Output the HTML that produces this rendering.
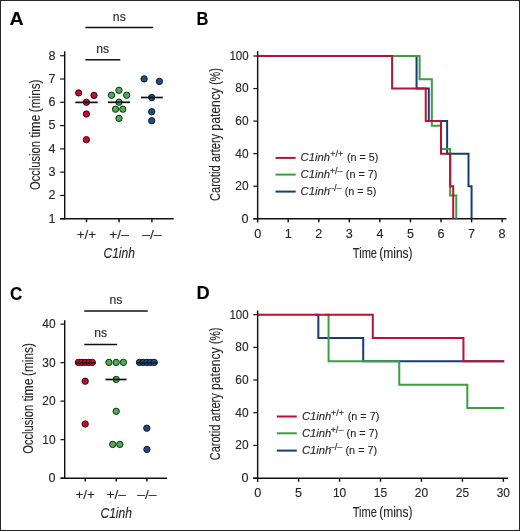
<!DOCTYPE html>
<html><head><meta charset="utf-8"><style>
html,body{margin:0;padding:0;background:#fff;}
.fig{position:relative;width:520px;height:531px;overflow:hidden;}
svg{display:block;font-family:"Liberation Sans", sans-serif;will-change:transform;}
text{stroke:#262626;stroke-width:0.12px;}
</style></head><body><div class="fig">
<svg width="520" height="531" viewBox="0 0 520 531">
<rect x="0" y="0" width="520" height="531" fill="#fff"/>
<text x="9.57" y="24.6" font-size="18.4" text-anchor="start" textLength="14.15" lengthAdjust="spacingAndGlyphs" font-weight="bold" fill="#000">A</text>
<text x="196.43" y="24.6" font-size="18.4" text-anchor="start" textLength="11.88" lengthAdjust="spacingAndGlyphs" font-weight="bold" fill="#000">B</text>
<text x="10.05" y="299.6" font-size="18.4" text-anchor="start" textLength="12.3" lengthAdjust="spacingAndGlyphs" font-weight="bold" fill="#000">C</text>
<text x="196.61" y="298.9" font-size="18.4" text-anchor="start" textLength="13.17" lengthAdjust="spacingAndGlyphs" font-weight="bold" fill="#000">D</text>
<line x1="64.7" y1="51.3" x2="64.7" y2="219.4" stroke="#111111" stroke-width="1.45"/>
<line x1="60.2" y1="218.75" x2="173.7" y2="218.75" stroke="#111111" stroke-width="1.45"/>
<line x1="60.2" y1="218.75" x2="64.7" y2="218.75" stroke="#111111" stroke-width="1.2"/>
<text x="55.6" y="222.65" font-size="12.6" text-anchor="end" fill="#262626">1</text>
<line x1="60.2" y1="195.46" x2="64.7" y2="195.46" stroke="#111111" stroke-width="1.2"/>
<text x="55.6" y="199.36" font-size="12.6" text-anchor="end" fill="#262626">2</text>
<line x1="60.2" y1="172.17000000000002" x2="64.7" y2="172.17000000000002" stroke="#111111" stroke-width="1.2"/>
<text x="55.6" y="176.07000000000002" font-size="12.6" text-anchor="end" fill="#262626">3</text>
<line x1="60.2" y1="148.88" x2="64.7" y2="148.88" stroke="#111111" stroke-width="1.2"/>
<text x="55.6" y="152.78" font-size="12.6" text-anchor="end" fill="#262626">4</text>
<line x1="60.2" y1="125.59" x2="64.7" y2="125.59" stroke="#111111" stroke-width="1.2"/>
<text x="55.6" y="129.49" font-size="12.6" text-anchor="end" fill="#262626">5</text>
<line x1="60.2" y1="102.30000000000001" x2="64.7" y2="102.30000000000001" stroke="#111111" stroke-width="1.2"/>
<text x="55.6" y="106.20000000000002" font-size="12.6" text-anchor="end" fill="#262626">6</text>
<line x1="60.2" y1="79.00999999999999" x2="64.7" y2="79.00999999999999" stroke="#111111" stroke-width="1.2"/>
<text x="55.6" y="82.91" font-size="12.6" text-anchor="end" fill="#262626">7</text>
<line x1="60.2" y1="55.72" x2="64.7" y2="55.72" stroke="#111111" stroke-width="1.2"/>
<text x="55.6" y="59.62" font-size="12.6" text-anchor="end" fill="#262626">8</text>
<line x1="86.5" y1="218.75" x2="86.5" y2="222.15" stroke="#111111" stroke-width="1.45"/>
<text x="86.5" y="238.6" font-size="12.5" text-anchor="middle" textLength="19.5" lengthAdjust="spacingAndGlyphs" fill="#262626">+/+</text>
<line x1="119.1" y1="218.75" x2="119.1" y2="222.15" stroke="#111111" stroke-width="1.45"/>
<text x="119.1" y="238.6" font-size="12.5" text-anchor="middle" textLength="19.5" lengthAdjust="spacingAndGlyphs" fill="#262626">+/–</text>
<line x1="151.9" y1="218.75" x2="151.9" y2="222.15" stroke="#111111" stroke-width="1.45"/>
<text x="151.9" y="238.6" font-size="12.5" text-anchor="middle" textLength="19.5" lengthAdjust="spacingAndGlyphs" fill="#262626">–/–</text>
<text x="119.2" y="257.9" font-size="14.5" text-anchor="middle" textLength="31.5" lengthAdjust="spacingAndGlyphs" font-style="italic" fill="#262626">C1inh</text>
<g transform="translate(40.3,0) rotate(-90)"><text x="-190.05" y="0" font-size="14.3" textLength="49.02" lengthAdjust="spacingAndGlyphs" fill="#262626">Occlusion</text><text x="-137.87" y="0" font-size="14.3" textLength="23.20" lengthAdjust="spacingAndGlyphs" fill="#262626">time</text><text x="-112.24" y="0" font-size="14.3" textLength="32.77" lengthAdjust="spacingAndGlyphs" fill="#262626">(mins)</text></g>
<line x1="85.4" y1="27.6" x2="153.1" y2="27.6" stroke="#111111" stroke-width="1.5"/>
<line x1="85.4" y1="59.7" x2="120.3" y2="59.7" stroke="#111111" stroke-width="1.5"/>
<text x="119.3" y="20.7" font-size="12.4" text-anchor="middle" textLength="12.9" lengthAdjust="spacingAndGlyphs" fill="#262626">ns</text>
<text x="102.7" y="52.7" font-size="12.4" text-anchor="middle" textLength="12.9" lengthAdjust="spacingAndGlyphs" fill="#262626">ns</text>
<circle cx="78.7" cy="92.9" r="3.15" fill="#c20e2e" stroke="#3a0510" stroke-width="1.0"/>
<circle cx="94.0" cy="95.4" r="3.15" fill="#c20e2e" stroke="#3a0510" stroke-width="1.0"/>
<circle cx="86.4" cy="102.3" r="3.15" fill="#c20e2e" stroke="#3a0510" stroke-width="1.0"/>
<circle cx="86.4" cy="114.0" r="3.15" fill="#c20e2e" stroke="#3a0510" stroke-width="1.0"/>
<circle cx="86.4" cy="139.7" r="3.15" fill="#c20e2e" stroke="#3a0510" stroke-width="1.0"/>
<line x1="75.3" y1="102.4" x2="97.7" y2="102.4" stroke="#111111" stroke-width="1.7"/>
<circle cx="119.0" cy="90.3" r="3.15" fill="#4cad52" stroke="#0a3010" stroke-width="1.0"/>
<circle cx="111.5" cy="95.2" r="3.15" fill="#4cad52" stroke="#0a3010" stroke-width="1.0"/>
<circle cx="126.7" cy="95.2" r="3.15" fill="#4cad52" stroke="#0a3010" stroke-width="1.0"/>
<circle cx="119.0" cy="102.2" r="3.15" fill="#4cad52" stroke="#0a3010" stroke-width="1.0"/>
<circle cx="115.5" cy="109.2" r="3.15" fill="#4cad52" stroke="#0a3010" stroke-width="1.0"/>
<circle cx="122.8" cy="109.2" r="3.15" fill="#4cad52" stroke="#0a3010" stroke-width="1.0"/>
<circle cx="119.0" cy="118.4" r="3.15" fill="#4cad52" stroke="#0a3010" stroke-width="1.0"/>
<line x1="108.0" y1="102.3" x2="130.0" y2="102.3" stroke="#111111" stroke-width="1.7"/>
<circle cx="144.1" cy="78.9" r="3.15" fill="#214c7e" stroke="#06162e" stroke-width="1.0"/>
<circle cx="159.4" cy="81.4" r="3.15" fill="#214c7e" stroke="#06162e" stroke-width="1.0"/>
<circle cx="151.7" cy="97.5" r="3.15" fill="#214c7e" stroke="#06162e" stroke-width="1.0"/>
<circle cx="151.7" cy="111.7" r="3.15" fill="#214c7e" stroke="#06162e" stroke-width="1.0"/>
<circle cx="151.7" cy="120.7" r="3.15" fill="#214c7e" stroke="#06162e" stroke-width="1.0"/>
<line x1="141.0" y1="97.5" x2="162.8" y2="97.5" stroke="#111111" stroke-width="1.7"/>
<line x1="257.65" y1="51.1" x2="257.65" y2="222.55" stroke="#111111" stroke-width="1.45"/>
<line x1="253.3" y1="218.75" x2="506.5" y2="218.75" stroke="#111111" stroke-width="1.45"/>
<line x1="253.3" y1="218.75" x2="257.65" y2="218.75" stroke="#111111" stroke-width="1.2"/>
<text x="248.6" y="222.65" font-size="12.6" text-anchor="end" fill="#262626">0</text>
<line x1="253.3" y1="186.2" x2="257.65" y2="186.2" stroke="#111111" stroke-width="1.2"/>
<text x="248.6" y="190.1" font-size="12.6" text-anchor="end" textLength="13.3" lengthAdjust="spacingAndGlyphs" fill="#262626">20</text>
<line x1="253.3" y1="153.65" x2="257.65" y2="153.65" stroke="#111111" stroke-width="1.2"/>
<text x="248.6" y="157.55" font-size="12.6" text-anchor="end" textLength="13.3" lengthAdjust="spacingAndGlyphs" fill="#262626">40</text>
<line x1="253.3" y1="121.10000000000001" x2="257.65" y2="121.10000000000001" stroke="#111111" stroke-width="1.2"/>
<text x="248.6" y="125.00000000000001" font-size="12.6" text-anchor="end" textLength="13.3" lengthAdjust="spacingAndGlyphs" fill="#262626">60</text>
<line x1="253.3" y1="88.55000000000001" x2="257.65" y2="88.55000000000001" stroke="#111111" stroke-width="1.2"/>
<text x="248.6" y="92.45000000000002" font-size="12.6" text-anchor="end" textLength="13.3" lengthAdjust="spacingAndGlyphs" fill="#262626">80</text>
<line x1="253.3" y1="56.0" x2="257.65" y2="56.0" stroke="#111111" stroke-width="1.2"/>
<text x="248.6" y="59.9" font-size="12.6" text-anchor="end" textLength="19.2" lengthAdjust="spacingAndGlyphs" fill="#262626">100</text>
<text x="257.65" y="237.9" font-size="12.6" text-anchor="middle" fill="#262626">0</text>
<line x1="288.21" y1="218.75" x2="288.21" y2="222.35" stroke="#111111" stroke-width="1.45"/>
<text x="288.21" y="237.9" font-size="12.6" text-anchor="middle" fill="#262626">1</text>
<line x1="318.77" y1="218.75" x2="318.77" y2="222.35" stroke="#111111" stroke-width="1.45"/>
<text x="318.77" y="237.9" font-size="12.6" text-anchor="middle" fill="#262626">2</text>
<line x1="349.33" y1="218.75" x2="349.33" y2="222.35" stroke="#111111" stroke-width="1.45"/>
<text x="349.33" y="237.9" font-size="12.6" text-anchor="middle" fill="#262626">3</text>
<line x1="379.89" y1="218.75" x2="379.89" y2="222.35" stroke="#111111" stroke-width="1.45"/>
<text x="379.89" y="237.9" font-size="12.6" text-anchor="middle" fill="#262626">4</text>
<line x1="410.44999999999993" y1="218.75" x2="410.44999999999993" y2="222.35" stroke="#111111" stroke-width="1.45"/>
<text x="410.44999999999993" y="237.9" font-size="12.6" text-anchor="middle" fill="#262626">5</text>
<line x1="441.01" y1="218.75" x2="441.01" y2="222.35" stroke="#111111" stroke-width="1.45"/>
<text x="441.01" y="237.9" font-size="12.6" text-anchor="middle" fill="#262626">6</text>
<line x1="471.56999999999994" y1="218.75" x2="471.56999999999994" y2="222.35" stroke="#111111" stroke-width="1.45"/>
<text x="471.56999999999994" y="237.9" font-size="12.6" text-anchor="middle" fill="#262626">7</text>
<line x1="502.13" y1="218.75" x2="502.13" y2="222.35" stroke="#111111" stroke-width="1.45"/>
<text x="502.13" y="237.9" font-size="12.6" text-anchor="middle" fill="#262626">8</text>
<text x="352.87" y="257.5" font-size="14.2" text-anchor="start" textLength="24.12" lengthAdjust="spacingAndGlyphs" fill="#262626">Time</text>
<text x="379.24" y="257.5" font-size="14.2" text-anchor="start" textLength="33.37" lengthAdjust="spacingAndGlyphs" fill="#262626">(mins)</text>
<g transform="translate(220.4,0) rotate(-90)"><text x="-200.94" y="0" font-size="14.2" textLength="35.62" lengthAdjust="spacingAndGlyphs" fill="#262626">Carotid</text><text x="-162.07" y="0" font-size="14.2" textLength="28.16" lengthAdjust="spacingAndGlyphs" fill="#262626">artery</text><text x="-130.67" y="0" font-size="14.2" textLength="42.80" lengthAdjust="spacingAndGlyphs" fill="#262626">patency</text><text x="-84.67" y="0" font-size="14.2" textLength="16.35" lengthAdjust="spacingAndGlyphs" fill="#262626">(%)</text></g>
<polyline points="410.45,56.00 416.56,56.00 416.56,88.55 428.79,88.55 428.79,121.10 447.12,121.10 447.12,153.65 468.51,153.65 468.51,186.20 471.57,186.20 471.57,218.75" fill="none" stroke="#163d76" stroke-width="2.0" stroke-linejoin="miter" stroke-linecap="butt"/>
<polyline points="386.00,56.00 419.62,56.00 419.62,79.25 431.84,79.25 431.84,125.75 441.01,125.75 441.01,149.00 450.18,149.00 450.18,195.50 456.29,195.50 456.29,218.75" fill="none" stroke="#3d9d43" stroke-width="2.0" stroke-linejoin="miter" stroke-linecap="butt"/>
<polyline points="257.65,56.00 392.11,56.00 392.11,88.55 425.73,88.55 425.73,121.10 441.01,121.10 441.01,153.65 450.18,153.65 450.18,186.20 453.23,186.20 453.23,218.75" fill="none" stroke="#b41332" stroke-width="2.0" stroke-linejoin="miter" stroke-linecap="butt"/>
<line x1="275.5" y1="157.9" x2="295.7" y2="157.9" stroke="#b41332" stroke-width="2.0"/>
<text x="300.6" y="161.0" font-size="11" text-anchor="start" textLength="29.5" lengthAdjust="spacingAndGlyphs" font-style="italic" fill="#262626">C1inh</text>
<text x="330.2" y="156.9" font-size="8.2" text-anchor="start" textLength="13.0" lengthAdjust="spacingAndGlyphs" fill="#262626">+/+</text>
<text x="346.9" y="161.0" font-size="11" text-anchor="start" textLength="31.6" lengthAdjust="spacingAndGlyphs" fill="#262626">(n = 5)</text>
<line x1="275.5" y1="174.6" x2="295.7" y2="174.6" stroke="#3d9d43" stroke-width="2.0"/>
<text x="300.6" y="178.1" font-size="11" text-anchor="start" textLength="29.5" lengthAdjust="spacingAndGlyphs" font-style="italic" fill="#262626">C1inh</text>
<text x="329.7" y="174.0" font-size="8.2" text-anchor="start" textLength="13.0" lengthAdjust="spacingAndGlyphs" fill="#262626">+/–</text>
<text x="345.8" y="178.1" font-size="11" text-anchor="start" textLength="31.6" lengthAdjust="spacingAndGlyphs" fill="#262626">(n = 7)</text>
<line x1="275.5" y1="191.6" x2="295.7" y2="191.6" stroke="#163d76" stroke-width="2.0"/>
<text x="300.6" y="195.2" font-size="11" text-anchor="start" textLength="29.5" lengthAdjust="spacingAndGlyphs" font-style="italic" fill="#262626">C1inh</text>
<text x="328.7" y="191.1" font-size="8.2" text-anchor="start" textLength="13.0" lengthAdjust="spacingAndGlyphs" fill="#262626">–/–</text>
<text x="344.7" y="195.2" font-size="11" text-anchor="start" textLength="31.6" lengthAdjust="spacingAndGlyphs" fill="#262626">(n = 5)</text>
<line x1="64.7" y1="320.2" x2="64.7" y2="478.79999999999995" stroke="#111111" stroke-width="1.45"/>
<line x1="60.5" y1="478.15" x2="167.1" y2="478.15" stroke="#111111" stroke-width="1.45"/>
<line x1="60.5" y1="478.15" x2="64.7" y2="478.15" stroke="#111111" stroke-width="1.2"/>
<text x="55.6" y="482.04999999999995" font-size="12.6" text-anchor="end" fill="#262626">0</text>
<line x1="60.5" y1="439.65" x2="64.7" y2="439.65" stroke="#111111" stroke-width="1.2"/>
<text x="55.6" y="443.54999999999995" font-size="12.6" text-anchor="end" textLength="13.3" lengthAdjust="spacingAndGlyphs" fill="#262626">10</text>
<line x1="60.5" y1="401.15" x2="64.7" y2="401.15" stroke="#111111" stroke-width="1.2"/>
<text x="55.6" y="405.04999999999995" font-size="12.6" text-anchor="end" textLength="13.3" lengthAdjust="spacingAndGlyphs" fill="#262626">20</text>
<line x1="60.5" y1="362.65" x2="64.7" y2="362.65" stroke="#111111" stroke-width="1.2"/>
<text x="55.6" y="366.54999999999995" font-size="12.6" text-anchor="end" textLength="13.3" lengthAdjust="spacingAndGlyphs" fill="#262626">30</text>
<line x1="60.5" y1="324.15" x2="64.7" y2="324.15" stroke="#111111" stroke-width="1.2"/>
<text x="55.6" y="328.04999999999995" font-size="12.6" text-anchor="end" textLength="13.3" lengthAdjust="spacingAndGlyphs" fill="#262626">40</text>
<line x1="85.2" y1="478.15" x2="85.2" y2="481.54999999999995" stroke="#111111" stroke-width="1.45"/>
<text x="85.2" y="498.6" font-size="12.5" text-anchor="middle" textLength="19.5" lengthAdjust="spacingAndGlyphs" fill="#262626">+/+</text>
<line x1="116.2" y1="478.15" x2="116.2" y2="481.54999999999995" stroke="#111111" stroke-width="1.45"/>
<text x="116.2" y="498.6" font-size="12.5" text-anchor="middle" textLength="19.5" lengthAdjust="spacingAndGlyphs" fill="#262626">+/–</text>
<line x1="146.9" y1="478.15" x2="146.9" y2="481.54999999999995" stroke="#111111" stroke-width="1.45"/>
<text x="146.9" y="498.6" font-size="12.5" text-anchor="middle" textLength="19.5" lengthAdjust="spacingAndGlyphs" fill="#262626">–/–</text>
<text x="116.2" y="517.8" font-size="14.5" text-anchor="middle" textLength="31.5" lengthAdjust="spacingAndGlyphs" font-style="italic" fill="#262626">C1inh</text>
<g transform="translate(33.4,0) rotate(-90)"><text x="-453.75" y="0" font-size="14.3" textLength="49.02" lengthAdjust="spacingAndGlyphs" fill="#262626">Occlusion</text><text x="-401.57" y="0" font-size="14.3" textLength="23.20" lengthAdjust="spacingAndGlyphs" fill="#262626">time</text><text x="-375.94" y="0" font-size="14.3" textLength="32.77" lengthAdjust="spacingAndGlyphs" fill="#262626">(mins)</text></g>
<line x1="84.3" y1="311.0" x2="147.7" y2="311.0" stroke="#111111" stroke-width="1.55"/>
<line x1="84.3" y1="344.5" x2="117.2" y2="344.5" stroke="#111111" stroke-width="1.5"/>
<text x="116.0" y="303.9" font-size="12.4" text-anchor="middle" textLength="12.9" lengthAdjust="spacingAndGlyphs" fill="#262626">ns</text>
<text x="100.6" y="337.3" font-size="12.4" text-anchor="middle" textLength="12.9" lengthAdjust="spacingAndGlyphs" fill="#262626">ns</text>
<circle cx="78.4" cy="362.4" r="3.15" fill="#c20e2e" stroke="#3a0510" stroke-width="1.0"/>
<circle cx="81.9" cy="362.4" r="3.15" fill="#c20e2e" stroke="#3a0510" stroke-width="1.0"/>
<circle cx="85.35" cy="362.4" r="3.15" fill="#c20e2e" stroke="#3a0510" stroke-width="1.0"/>
<circle cx="88.8" cy="362.4" r="3.15" fill="#c20e2e" stroke="#3a0510" stroke-width="1.0"/>
<circle cx="92.3" cy="362.4" r="3.15" fill="#c20e2e" stroke="#3a0510" stroke-width="1.0"/>
<line x1="75.0" y1="362.9" x2="95.8" y2="362.9" stroke="#111111" stroke-width="1.2"/>
<circle cx="85.2" cy="381.2" r="3.15" fill="#c20e2e" stroke="#3a0510" stroke-width="1.0"/>
<circle cx="85.2" cy="424.0" r="3.15" fill="#c20e2e" stroke="#3a0510" stroke-width="1.0"/>
<circle cx="109.0" cy="362.4" r="3.15" fill="#4cad52" stroke="#0a3010" stroke-width="1.0"/>
<circle cx="116.2" cy="362.4" r="3.15" fill="#4cad52" stroke="#0a3010" stroke-width="1.0"/>
<circle cx="123.4" cy="362.4" r="3.15" fill="#4cad52" stroke="#0a3010" stroke-width="1.0"/>
<circle cx="116.2" cy="379.4" r="3.15" fill="#4cad52" stroke="#0a3010" stroke-width="1.0"/>
<circle cx="116.2" cy="411.3" r="3.15" fill="#4cad52" stroke="#0a3010" stroke-width="1.0"/>
<circle cx="112.7" cy="444.4" r="3.15" fill="#4cad52" stroke="#0a3010" stroke-width="1.0"/>
<circle cx="119.8" cy="444.4" r="3.15" fill="#4cad52" stroke="#0a3010" stroke-width="1.0"/>
<line x1="105.5" y1="379.5" x2="126.5" y2="379.5" stroke="#111111" stroke-width="1.7"/>
<circle cx="139.5" cy="362.4" r="3.15" fill="#214c7e" stroke="#06162e" stroke-width="1.0"/>
<circle cx="143.2" cy="362.4" r="3.15" fill="#214c7e" stroke="#06162e" stroke-width="1.0"/>
<circle cx="146.85" cy="362.4" r="3.15" fill="#214c7e" stroke="#06162e" stroke-width="1.0"/>
<circle cx="150.5" cy="362.4" r="3.15" fill="#214c7e" stroke="#06162e" stroke-width="1.0"/>
<circle cx="154.2" cy="362.4" r="3.15" fill="#214c7e" stroke="#06162e" stroke-width="1.0"/>
<line x1="136.2" y1="362.9" x2="157.6" y2="362.9" stroke="#111111" stroke-width="1.2"/>
<circle cx="146.8" cy="428.2" r="3.15" fill="#214c7e" stroke="#06162e" stroke-width="1.0"/>
<circle cx="146.9" cy="449.4" r="3.15" fill="#214c7e" stroke="#06162e" stroke-width="1.0"/>
<line x1="257.65" y1="310.5" x2="257.65" y2="481.95" stroke="#111111" stroke-width="1.45"/>
<line x1="253.3" y1="478.15" x2="508.0" y2="478.15" stroke="#111111" stroke-width="1.45"/>
<line x1="253.3" y1="478.15" x2="257.65" y2="478.15" stroke="#111111" stroke-width="1.2"/>
<text x="248.6" y="482.04999999999995" font-size="12.6" text-anchor="end" fill="#262626">0</text>
<line x1="253.3" y1="445.45" x2="257.65" y2="445.45" stroke="#111111" stroke-width="1.2"/>
<text x="248.6" y="449.34999999999997" font-size="12.6" text-anchor="end" textLength="13.3" lengthAdjust="spacingAndGlyphs" fill="#262626">20</text>
<line x1="253.3" y1="412.75" x2="257.65" y2="412.75" stroke="#111111" stroke-width="1.2"/>
<text x="248.6" y="416.65" font-size="12.6" text-anchor="end" textLength="13.3" lengthAdjust="spacingAndGlyphs" fill="#262626">40</text>
<line x1="253.3" y1="380.04999999999995" x2="257.65" y2="380.04999999999995" stroke="#111111" stroke-width="1.2"/>
<text x="248.6" y="383.94999999999993" font-size="12.6" text-anchor="end" textLength="13.3" lengthAdjust="spacingAndGlyphs" fill="#262626">60</text>
<line x1="253.3" y1="347.34999999999997" x2="257.65" y2="347.34999999999997" stroke="#111111" stroke-width="1.2"/>
<text x="248.6" y="351.24999999999994" font-size="12.6" text-anchor="end" textLength="13.3" lengthAdjust="spacingAndGlyphs" fill="#262626">80</text>
<line x1="253.3" y1="314.65" x2="257.65" y2="314.65" stroke="#111111" stroke-width="1.2"/>
<text x="248.6" y="318.54999999999995" font-size="12.6" text-anchor="end" textLength="19.2" lengthAdjust="spacingAndGlyphs" fill="#262626">100</text>
<text x="257.65" y="497.4" font-size="12.6" text-anchor="middle" fill="#262626">0</text>
<line x1="298.59999999999997" y1="478.15" x2="298.59999999999997" y2="481.75" stroke="#111111" stroke-width="1.45"/>
<text x="298.59999999999997" y="497.4" font-size="12.6" text-anchor="middle" fill="#262626">5</text>
<line x1="339.54999999999995" y1="478.15" x2="339.54999999999995" y2="481.75" stroke="#111111" stroke-width="1.45"/>
<text x="339.54999999999995" y="497.4" font-size="12.6" text-anchor="middle" textLength="13.3" lengthAdjust="spacingAndGlyphs" fill="#262626">10</text>
<line x1="380.5" y1="478.15" x2="380.5" y2="481.75" stroke="#111111" stroke-width="1.45"/>
<text x="380.5" y="497.4" font-size="12.6" text-anchor="middle" textLength="13.3" lengthAdjust="spacingAndGlyphs" fill="#262626">15</text>
<line x1="421.44999999999993" y1="478.15" x2="421.44999999999993" y2="481.75" stroke="#111111" stroke-width="1.45"/>
<text x="421.44999999999993" y="497.4" font-size="12.6" text-anchor="middle" textLength="13.3" lengthAdjust="spacingAndGlyphs" fill="#262626">20</text>
<line x1="462.4" y1="478.15" x2="462.4" y2="481.75" stroke="#111111" stroke-width="1.45"/>
<text x="462.4" y="497.4" font-size="12.6" text-anchor="middle" textLength="13.3" lengthAdjust="spacingAndGlyphs" fill="#262626">25</text>
<line x1="503.34999999999997" y1="478.15" x2="503.34999999999997" y2="481.75" stroke="#111111" stroke-width="1.45"/>
<text x="503.34999999999997" y="497.4" font-size="12.6" text-anchor="middle" textLength="13.3" lengthAdjust="spacingAndGlyphs" fill="#262626">30</text>
<text x="352.77" y="516.9" font-size="14.2" text-anchor="start" textLength="24.12" lengthAdjust="spacingAndGlyphs" fill="#262626">Time</text>
<text x="379.14" y="516.9" font-size="14.2" text-anchor="start" textLength="33.37" lengthAdjust="spacingAndGlyphs" fill="#262626">(mins)</text>
<g transform="translate(219.6,0) rotate(-90)"><text x="-460.34" y="0" font-size="14.2" textLength="35.62" lengthAdjust="spacingAndGlyphs" fill="#262626">Carotid</text><text x="-421.47" y="0" font-size="14.2" textLength="28.16" lengthAdjust="spacingAndGlyphs" fill="#262626">artery</text><text x="-390.07" y="0" font-size="14.2" textLength="42.80" lengthAdjust="spacingAndGlyphs" fill="#262626">patency</text><text x="-344.07" y="0" font-size="14.2" textLength="16.35" lengthAdjust="spacingAndGlyphs" fill="#262626">(%)</text></g>
<polyline points="314.98,314.65 318.34,314.65 318.34,338.01 363.22,338.01 363.22,361.36 504.17,361.36" fill="none" stroke="#163d76" stroke-width="2.0" stroke-linejoin="miter" stroke-linecap="butt"/>
<polyline points="325.63,314.65 328.58,314.65 328.58,361.36 399.26,361.36 399.26,384.72 467.31,384.72 467.31,408.08 504.17,408.08" fill="none" stroke="#3d9d43" stroke-width="2.0" stroke-linejoin="miter" stroke-linecap="butt"/>
<polyline points="257.65,314.65 372.80,314.65 372.80,338.01 463.46,338.01 463.46,361.36 504.17,361.36" fill="none" stroke="#b41332" stroke-width="2.0" stroke-linejoin="miter" stroke-linecap="butt"/>
<line x1="276.8" y1="416.5" x2="296.8" y2="416.5" stroke="#b41332" stroke-width="2.0"/>
<text x="301.9" y="420.2" font-size="11" text-anchor="start" textLength="29.5" lengthAdjust="spacingAndGlyphs" font-style="italic" fill="#262626">C1inh</text>
<text x="331.0" y="416.09999999999997" font-size="8.2" text-anchor="start" textLength="13.0" lengthAdjust="spacingAndGlyphs" fill="#262626">+/+</text>
<text x="347.7" y="420.2" font-size="11" text-anchor="start" textLength="31.6" lengthAdjust="spacingAndGlyphs" fill="#262626">(n = 7)</text>
<line x1="276.8" y1="433.3" x2="296.8" y2="433.3" stroke="#3d9d43" stroke-width="2.0"/>
<text x="301.9" y="437.1" font-size="11" text-anchor="start" textLength="29.5" lengthAdjust="spacingAndGlyphs" font-style="italic" fill="#262626">C1inh</text>
<text x="330.5" y="433.0" font-size="8.2" text-anchor="start" textLength="13.0" lengthAdjust="spacingAndGlyphs" fill="#262626">+/–</text>
<text x="346.6" y="437.1" font-size="11" text-anchor="start" textLength="31.6" lengthAdjust="spacingAndGlyphs" fill="#262626">(n = 7)</text>
<line x1="276.8" y1="450.6" x2="296.8" y2="450.6" stroke="#163d76" stroke-width="2.0"/>
<text x="301.9" y="453.9" font-size="11" text-anchor="start" textLength="29.5" lengthAdjust="spacingAndGlyphs" font-style="italic" fill="#262626">C1inh</text>
<text x="329.5" y="449.79999999999995" font-size="8.2" text-anchor="start" textLength="13.0" lengthAdjust="spacingAndGlyphs" fill="#262626">–/–</text>
<text x="345.5" y="453.9" font-size="11" text-anchor="start" textLength="31.6" lengthAdjust="spacingAndGlyphs" fill="#262626">(n = 7)</text>
<rect x="0.5" y="0.5" width="519" height="530" fill="none" stroke="#262626" stroke-width="1"/>
</svg></div></body></html>
